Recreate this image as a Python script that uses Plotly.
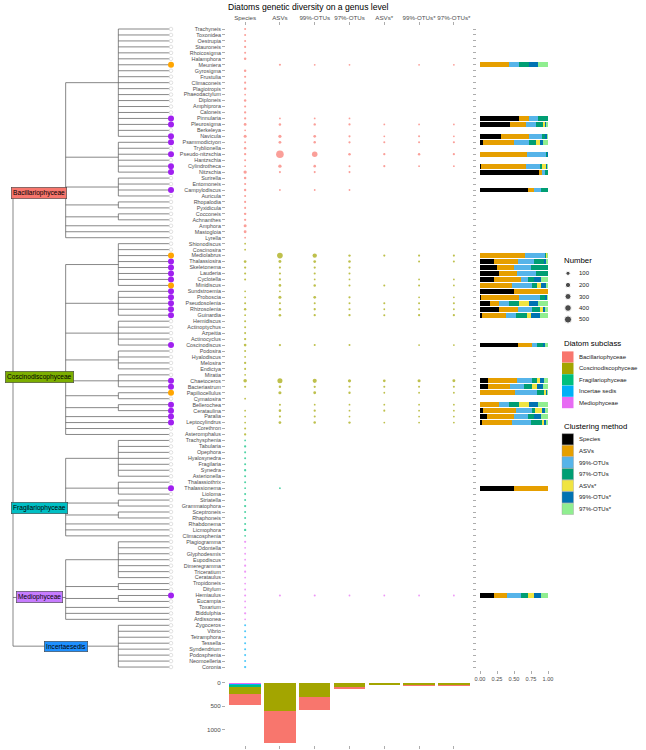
import numpy as np
import plotly.graph_objects as go

W, H = 646, 750
FONT = "Liberation Sans, Arial, sans-serif"

# ---------------- data ----------------
methods = ["Species", "ASVs", "99%-OTUs", "97%-OTUs", "ASVs*", "99%-OTUs*", "97%-OTUs*"]
method_colors = ["#000000", "#E69F00", "#56B4E9", "#009E73", "#F0E442", "#0072B2", "#90EE90"]

subclasses = ["Bacillariophyceae", "Coscinodiscophyceae", "Fragilariophyceae", "Incertae sedis", "Mediophyceae"]
subclass_colors = ["#F8766D", "#A3A500", "#00BF7D", "#00B0F6", "#E76BF3"]

# taxonomy tree: lists are order-level nodes, strings are genera attached to the class node
bacillariophyceae_tree = [
    ["Trachyneis", "Toxonidea", "Oestrupia", "Stauroneis", "Rhoicosigma", "Halamphora", "Meuniera",
     "Gyrosigma", "Frustulia", "Climaconeis", "Plagiotropis", "Phaeodactylum", "Diploneis",
     "Amphiprora", "Caloneis", "Pinnularia", "Pleurosigma", "Berkeleya", "Navicula"],
    ["Psammodictyon", "Tryblionella", "Pseudo-nitzschia", "Hantzschia", "Cylindrotheca", "Nitzschia"],
    ["Surirella", "Entomoneis", "Campylodiscus", "Auricula"],
    ["Rhopalodia", "Pyxidicula"],
    ["Cocconeis", "Achnanthes"],
    "Amphora", "Mastogloia", "Lyrella",
]
coscinodiscophyceae_tree = [
    ["Shionodiscus", "Coscinosira", "Mediolabrus", "Thalassiosira", "Skeletonema", "Lauderia",
     "Cyclotella", "Minidiscus"],
    ["Sundstroemia", "Proboscia", "Pseudosolenia", "Rhizosolenia", "Guinardia"],
    ["Hemidiscus", "Actinoptychus", "Azpeitia", "Actinocyclus", "Coscinodiscus"],
    ["Podosira", "Hyalodiscus", "Melosira", "Endictya"],
    ["Miratia", "Chaetoceros", "Bacteriastrum"],
    ["Papiliocellulus", "Cymatosira"],
    ["Bellerochea", "Cerataulina"],
    "Paralia", "Leptocylindrus", "Corethron", "Asteromphalus",
]
fragilariophyceae_tree = [
    ["Trachysphenia", "Tabularia", "Opephora", "Hyalosynedra", "Fragilaria", "Synedra", "Asterionella"],
    ["Thalassiothrix", "Thalassionema", "Lioloma"],
    ["Striatella", "Grammatophora"],
    ["Sceptroneis", "Rhaphoneis"],
    "Rhabdonema", "Licmophora", "Climacosphenia",
]
mediophyceae_tree = [
    ["Plagiogramma", "Odontella", "Glyphodesmis", "Eupodiscus", "Dimeregramma", "Triceratium", "Cerataulus"],
    ["Tropidoneis", "Ditylum"],
    ["Hemiaulus", "Eucampia"],
    "Toxarium", "Biddulphia", "Ardissonea",
]
incertae_tree = ["Zygoceros", "Vibrio", "Tetramphora", "Tessella", "Syndendrium", "Podosphenia",
                 "Neomoelleria", "Coronia"]

class_labels = ["Bacillariophyceae", "Coscinodiscophyceae", "Fragilariophyceae", "Mediophyceae", "Incertaesedis"]
class_label_colors = ["#F8766D", "#7CAE00", "#00BFC4", "#C77CFF", "#1E90FF"]
class_subclass = ["Bacillariophyceae", "Coscinodiscophyceae", "Fragilariophyceae", "Mediophyceae", "Incertae sedis"]

# number of reference species per genus (same order as the tree leaves)
bacillariophyceae_species = [2, 2, 2, 3, 2, 8, 0, 8, 3, 3, 6, 1, 8, 3, 5, 4, 18, 1, 25,
                             2, 6, 5, 2, 1, 40, 8, 3, 7, 2, 3, 2, 8, 5, 25, 20, 1]
coscinodiscophyceae_species = [1, 1, 0, 14, 4, 3, 2, 0, 1, 1, 2, 7, 1, 2, 2, 2, 5, 14, 2, 1, 5, 2,
                               1, 52, 3, 0, 1, 0, 1, 1, 1, 2, 5]
fragilariophyceae_species = [1, 5, 2, 2, 2, 5, 2, 2, 1, 2, 2, 5, 2, 2, 2, 6, 1]
mediophyceae_species = [4, 1, 1, 1, 3, 3, 1, 1, 1, 2, 1, 1, 4, 1]
incertae_species = [2, 2, 2, 2, 2, 2, 2, 5]

# genera with environmental sequences
seq_genera = ["Meuniera", "Pinnularia", "Pleurosigma", "Navicula", "Psammodictyon", "Pseudo-nitzschia",
              "Cylindrotheca", "Nitzschia", "Campylodiscus", "Mediolabrus", "Thalassiosira", "Skeletonema",
              "Lauderia", "Cyclotella", "Minidiscus", "Sundstroemia", "Proboscia", "Pseudosolenia",
              "Rhizosolenia", "Guinardia", "Coscinodiscus", "Chaetoceros", "Bacteriastrum",
              "Papiliocellulus", "Bellerochea", "Cerataulina", "Paralia", "Leptocylindrus",
              "Thalassionema", "Hemiaulus"]
asvs =       [3, 1, 10, 33, 18, 566, 40, 2, 1, 250, 23, 4, 3, 4, 14, 1, 27, 2, 7, 11, 5, 180, 8, 30, 2, 10, 4, 16, 1, 2]
otus99 =     [1, 1, 6, 15, 9, 233, 12, 2, 1, 112, 16, 4, 3, 1, 9, 0, 15, 2, 5, 5, 2, 92, 5, 19, 1, 5, 2, 10, 0, 2]
otus97 =     [1, 1, 4, 3, 4, 9, 2, 2, 1, 6, 10, 4, 2, 1, 2, 0, 4, 2, 3, 5, 2, 35, 3, 6, 1, 1, 1, 6, 0, 1]
asvs_s =     [0, 0, 1, 1, 2, 5, 3, 0, 0, 3, 0, 0, 0, 0, 2, 0, 0, 2, 1, 2, 0, 16, 2, 1, 1, 2, 0, 1, 0, 1]
otus99_s =   [1, 0, 1, 2, 2, 8, 1, 0, 0, 3, 2, 0, 0, 1, 2, 0, 1, 2, 1, 4, 1, 28, 2, 1, 1, 1, 1, 1, 0, 1]
otus97_s =   [1, 0, 1, 1, 3, 4, 1, 0, 0, 3, 2, 0, 0, 1, 1, 0, 1, 2, 1, 4, 1, 24, 2, 1, 1, 1, 1, 1, 0, 1]

purple_tips = ["Pinnularia", "Pleurosigma", "Navicula", "Psammodictyon", "Pseudo-nitzschia", "Cylindrotheca",
               "Nitzschia", "Campylodiscus", "Thalassiosira", "Skeletonema", "Lauderia", "Cyclotella",
               "Sundstroemia", "Proboscia", "Pseudosolenia", "Rhizosolenia", "Guinardia", "Coscinodiscus",
               "Chaetoceros", "Bacteriastrum", "Bellerochea", "Cerataulina", "Paralia", "Leptocylindrus",
               "Thalassionema", "Hemiaulus"]
orange_tips = ["Meuniera", "Mediolabrus", "Minidiscus", "Papiliocellulus"]

size_breaks = [100, 200, 300, 400, 500]
count_ticks = [0, 500, 1000]
prop_ticks = [0, 0.25, 0.5, 0.75, 1.0]

# ---------------- derived tables ----------------
trees = [bacillariophyceae_tree, coscinodiscophyceae_tree, fragilariophyceae_tree, mediophyceae_tree, incertae_tree]
species_lists = [bacillariophyceae_species, coscinodiscophyceae_species, fragilariophyceae_species,
                 mediophyceae_species, incertae_species]


def leaves(t):
    out = []
    for c in t:
        out += [c] if isinstance(c, str) else leaves(c)
    return out


genera, genus_subclass, species = [], [], []
for t, sc, sp in zip(trees, class_subclass, species_lists):
    lv = leaves(t)
    genera += lv
    genus_subclass += [sc] * len(lv)
    species += sp
row = {g: i for i, g in enumerate(genera)}

seq_cols = [asvs, otus99, otus97, asvs_s, otus99_s, otus97_s]
values = {g: [species[i]] + [0] * 6 for i, g in enumerate(genera)}
for j, g in enumerate(seq_genera):
    for k, col in enumerate(seq_cols):
        values[g][k + 1] = col[j]

vmax = max(max(v) for v in values.values())


def dot_size(v):
    return 1.8 + 5.8 * np.sqrt((v - 1) / (vmax - 1))


# ---------------- pixel helpers (page pixel -> paper fraction) ----------------
def px(x):
    return x / W


def py(y):
    return 1 - y / H


ROW_TOP, ROW_STEP = 29.0, 5.963
PANEL_T, PANEL_B = 26.0, 670.0
row_range = [len(genera) - 1 + (PANEL_B - (ROW_TOP + (len(genera) - 1) * ROW_STEP)) / ROW_STEP,
             -(ROW_TOP - PANEL_T) / ROW_STEP]

fig = go.Figure()

# ---------------- tree ----------------
lx, ly = [], []


def seg(x0, y0, x1, y1):
    lx.extend([x0, x1, None])
    ly.extend([y0, y1, None])


def draw(children, depth):
    cys = []
    for c in children:
        if isinstance(c, str):
            cy, cx = row[c], 3
        else:
            cy, cx = draw(c, depth + 1), depth + 1
        seg(depth, cy, cx, cy)
        cys.append(cy)
    seg(depth, min(cys), depth, max(cys))
    return float(np.mean(cys))


class_y, class_depth = [], []
for t in trees[:4]:
    cy = draw(t, 1)
    seg(0, cy, 1, cy)
    class_y.append(cy)
    class_depth.append(1)
cy = draw(incertae_tree, 2)
seg(0, cy, 2, cy)
class_y.append(cy)
class_depth.append(2)
seg(0, min(class_y), 0, max(class_y))

fig.add_trace(go.Scatter(x=lx, y=ly, mode="lines", line=dict(color="#555555", width=0.7),
                         xaxis="x", yaxis="y", showlegend=False, hoverinfo="skip"))
fig.add_trace(go.Scatter(x=[3] * len(genera), y=[row[g] for g in genera], mode="markers",
                         marker=dict(size=3.6, color="white", line=dict(color="#d4d4d4", width=0.7)),
                         xaxis="x", yaxis="y", showlegend=False, hoverinfo="skip"))
for tips, col in [(purple_tips, "#A020F0"), (orange_tips, "#FFA500")]:
    fig.add_trace(go.Scatter(x=[3] * len(tips), y=[row[g] for g in tips], mode="markers",
                             marker=dict(size=6, color=col), xaxis="x", yaxis="y",
                             showlegend=False, hoverinfo="skip"))

annotations = []
for lab, col, cyv, d in zip(class_labels, class_label_colors, class_y, class_depth):
    annotations.append(dict(x=d / 2, y=cyv, xref="x", yref="y", text=lab, showarrow=False,
                            font=dict(size=6.6, color="black", family=FONT), bgcolor=col,
                            bordercolor="#444444", borderwidth=0.6, borderpad=1.5))

# ---------------- dot matrix ----------------
for sc, col in zip(subclasses, subclass_colors):
    xs, ys, ss = [], [], []
    for g, gs in zip(genera, genus_subclass):
        if gs != sc:
            continue
        for m, v in zip(methods, values[g]):
            if v > 0:
                xs.append(m)
                ys.append(g)
                ss.append(dot_size(v))
    fig.add_trace(go.Scatter(x=xs, y=ys, mode="markers", marker=dict(size=ss, color=col, line=dict(width=0)),
                             xaxis="x2", yaxis="y2", showlegend=False))

# ---------------- proportion bars ----------------
for k, (m, col) in enumerate(zip(methods, method_colors)):
    xs = []
    for g in seq_genera:
        tot = sum(values[g])
        xs.append(values[g][k] / tot)
    fig.add_trace(go.Bar(x=xs, y=seq_genera, orientation="h", marker=dict(color=col, line=dict(width=0)),
                         width=0.8, xaxis="x3", yaxis="y3", showlegend=False))

# ---------------- totals bars ----------------
stack_order = ["Mediophyceae", "Incertae sedis", "Fragilariophyceae", "Coscinodiscophyceae", "Bacillariophyceae"]
for sc in stack_order:
    col = subclass_colors[subclasses.index(sc)]
    tot = [sum(values[g][k] for g, gs in zip(genera, genus_subclass) if gs == sc) for k in range(len(methods))]
    fig.add_trace(go.Bar(x=methods, y=tot, marker=dict(color=col, line=dict(width=0)), width=0.9,
                         xaxis="x4", yaxis="y4", showlegend=False))

# ---------------- legends (manual) ----------------
leg_x = 562
annotations.append(dict(x=px(leg_x), y=py(260.5), xref="paper", yref="paper", text="Number", showarrow=False,
                        xanchor="left", yanchor="middle", font=dict(size=7.8, color="black", family=FONT)))
size_leg_y = [273.3, 285, 296.5, 308, 319.5]
fig.add_trace(go.Scatter(x=[568] * len(size_breaks), y=size_leg_y, mode="markers",
                         marker=dict(size=[dot_size(v) for v in size_breaks], color="black"),
                         xaxis="x5", yaxis="y5", showlegend=False, hoverinfo="skip"))
for v, yy in zip(size_breaks, size_leg_y):
    annotations.append(dict(x=px(577), y=py(yy), xref="paper", yref="paper", text=str(v), showarrow=False,
                            xanchor="left", yanchor="middle", font=dict(size=6, color="#1a1a1a", family=FONT)))

shapes = []
annotations.append(dict(x=px(leg_x), y=py(343.7), xref="paper", yref="paper", text="Diatom subclass",
                        showarrow=False, xanchor="left", yanchor="middle",
                        font=dict(size=7.8, color="black", family=FONT)))
for i, (sc, col) in enumerate(zip(subclasses, subclass_colors)):
    yy = 357 + i * 11.4
    shapes.append(dict(type="rect", xref="paper", yref="paper", x0=px(562), x1=px(573.5),
                       y0=py(yy + 5.6), y1=py(yy - 5.6), fillcolor=col, line=dict(width=0)))
    annotations.append(dict(x=px(577), y=py(yy), xref="paper", yref="paper", text=sc, showarrow=False,
                            xanchor="left", yanchor="middle", font=dict(size=6, color="#1a1a1a", family=FONT)))

annotations.append(dict(x=px(leg_x), y=py(426.7), xref="paper", yref="paper", text="Clustering method",
                        showarrow=False, xanchor="left", yanchor="middle",
                        font=dict(size=7.8, color="black", family=FONT)))
for i, (m, col) in enumerate(zip(methods, method_colors)):
    yy = 439.3 + i * 11.6
    shapes.append(dict(type="rect", xref="paper", yref="paper", x0=px(562), x1=px(573.5),
                       y0=py(yy + 5.6), y1=py(yy - 5.6), fillcolor=col, line=dict(width=0.4, color="#999999")))
    annotations.append(dict(x=px(577), y=py(yy), xref="paper", yref="paper", text=m, showarrow=False,
                            xanchor="left", yanchor="middle", font=dict(size=6, color="#1a1a1a", family=FONT)))

annotations.append(dict(x=px(308.7), y=py(7.3), xref="paper", yref="paper",
                        text="Diatoms genetic diversity on a genus level", showarrow=False,
                        xanchor="center", yanchor="middle", font=dict(size=8.6, color="black", family=FONT)))

# ---------------- axes ----------------
tick_col = "#777777"
lab_col = "#4D4D4D"
ydom = [py(PANEL_B), py(PANEL_T)]
tree_scale = (171 - 13) / 3.0
common = dict(showgrid=False, zeroline=False, showline=False, automargin=False)

fig.update_layout(
    template="none",
    width=W, height=H, margin=dict(l=0, r=0, t=0, b=0, autoexpand=False),
    paper_bgcolor="white", plot_bgcolor="rgba(0,0,0,0)",
    barmode="stack", bargap=0, showlegend=False, hovermode=False,
    font=dict(family=FONT, color=lab_col),
    xaxis=dict(domain=[0, px(176)], range=[-13 / tree_scale, 3 + 5 / tree_scale], visible=False,
               anchor="y", **common),
    yaxis=dict(domain=ydom, range=row_range, visible=False, anchor="x", **common),
    xaxis2=dict(domain=[px(226), px(473)], type="category", categoryorder="array", categoryarray=methods,
                tickmode="array", tickvals=methods, tickangle=0,
                range=[-0.55, 6.55], side="top", anchor="y2", ticks="outside", ticklen=3, tickwidth=0.6,
                tickcolor=tick_col, tickfont=dict(size=6.2, color=lab_col), **common),
    yaxis2=dict(domain=ydom, type="category", categoryorder="array", categoryarray=genera, range=row_range,
                tickmode="array", tickvals=genera, tickangle=0,
                anchor="x2", ticks="outside", ticklen=3, tickwidth=0.6, tickcolor=tick_col,
                tickfont=dict(size=5.4, color=lab_col), **common),
    xaxis3=dict(domain=[px(476.6), px(551.4)], range=[-0.05, 1.05], anchor="y3", tickmode="array",
                tickvals=prop_ticks, ticktext=["%.2f" % v for v in prop_ticks], tickangle=0,
                ticks="outside", ticklen=3, tickwidth=0.6,
                tickcolor=tick_col, tickfont=dict(size=5.6, color=lab_col), **common),
    yaxis3=dict(domain=ydom, type="category", categoryorder="array", categoryarray=genera, range=row_range,
                tickmode="array", tickvals=genera,
                anchor="x3", ticks="outside", ticklen=3, tickwidth=0.6, tickcolor=tick_col,
                showticklabels=False, **common),
    xaxis4=dict(domain=[px(226), px(473)], type="category", categoryorder="array", categoryarray=methods,
                tickmode="array", tickvals=methods,
                range=[-0.55, 6.55], anchor="y4", ticks="outside", ticklen=3, tickwidth=0.6, tickcolor=tick_col,
                showticklabels=False, **common),
    yaxis4=dict(domain=[py(745), py(680)], range=[1331, -63], anchor="x4", tickmode="array",
                tickvals=count_ticks, tickangle=0,
                ticks="outside", ticklen=3, tickwidth=0.6, tickcolor=tick_col,
                tickfont=dict(size=6.2, color=lab_col), **common),
    xaxis5=dict(domain=[0, 1], range=[0, W], visible=False, anchor="y5", **common),
    yaxis5=dict(domain=[0, 1], range=[H, 0], visible=False, anchor="x5", **common),
    annotations=annotations, shapes=shapes,
)

# remove the browser's default 8px page margin so the figure fills the window exactly
fig.write_html("out.html", config={"displayModeBar": False, "staticPlot": True},
               post_script="document.body.style.margin='0';document.body.style.overflow='hidden';")
